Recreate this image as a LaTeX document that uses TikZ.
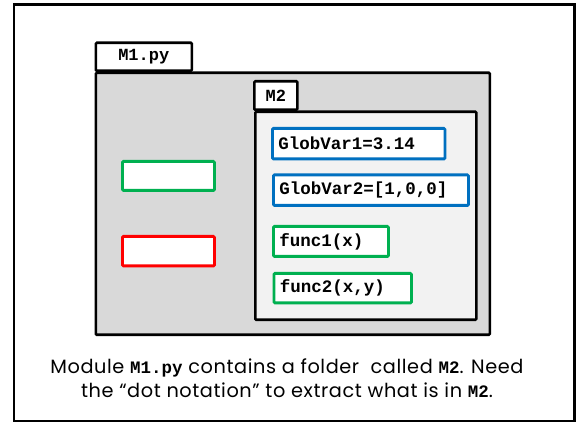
\documentclass[tikz,border=0pt]{standalone}
\usepackage{fontspec}
\setmainfont{Poppins}[LetterSpace=3]
\setmonofont{Liberation Mono}
\definecolor{bodygray}{HTML}{D9D9D9}
\definecolor{innergray}{HTML}{F2F2F2}
\definecolor{mygreen}{HTML}{00B050}
\definecolor{myred}{HTML}{FF0000}
\definecolor{myblue}{HTML}{0070C0}
\tikzset{
  frame/.style={draw=black, line width=2.6pt, inner sep=0pt, anchor=north west},
  tabbox/.style={draw=black, fill=white, line width=2.6pt, rounded corners=1pt, inner sep=0pt, anchor=north west, font=\ttfamily\bfseries\fontsize{17}{17}\selectfont},
  folder/.style={draw=black, line width=2.6pt, rounded corners=1pt, inner sep=0pt, anchor=north west},
  item/.style={line width=2.8pt, fill=white, rounded corners=1pt, anchor=north west, inner xsep=6pt, inner ysep=0pt, align=left, font=\ttfamily\bfseries\fontsize{17.5}{17.5}\selectfont},
  caption/.style={align=center, font=\fontsize{19.3}{24}\selectfont}
}
\newcommand{\code}[1]{{\ttfamily\bfseries\fontsize{17.5}{17.5}\selectfont #1}}
\begin{document}
\begin{tikzpicture}[x=1pt,y=-1pt]
\useasboundingbox (0,0) rectangle (579,422);
\node[frame, minimum width=560.5pt, minimum height=416.5pt] (frame) at (12.5,3) {};
% M1 folder
\node[folder, fill=bodygray, minimum width=394pt, minimum height=262pt] (m1body) at (94.5,71.5) {};
\node[tabbox, minimum width=96pt, minimum height=28pt] (m1tab) at (94.5,41.5) {M1.py};
% M2 folder
\node[folder, fill=innergray, minimum width=221pt, minimum height=208pt] (m2body) at (254,110.5) {};
\node[tabbox, minimum width=43pt, minimum height=28.5pt] (m2tab) at (253,80) {M2};
% left boxes
\node[item, draw=mygreen, minimum width=92pt, minimum height=29pt] (lgreen) at (121,160) {};
\node[item, draw=myred, minimum width=92pt, minimum height=29.5pt] (lred) at (121,235) {};
% items in M2
\node[item, draw=myblue, text width=160.5pt, minimum height=30.5pt] (gv1) at (271,127) {GlobVar1=3.14};
\node[item, draw=myblue, text width=183pt, minimum height=30.5pt] (gv2) at (272,173.5) {GlobVar2=[1,0,0]};
\node[item, draw=mygreen, text width=103pt, minimum height=30pt] (f1) at (272,225) {func1(x)};
\node[item, draw=mygreen, text width=125.5pt, minimum height=29.5pt] (f2) at (272.5,272) {func2(x,y)};
% caption
\node[caption] (cap) at (287,378) {Module \code{M1.py} contains a folder\ \ called \code{M2}. Need\\the “dot notation” to extract what is in \code{M2}.};
\end{tikzpicture}
\end{document}
